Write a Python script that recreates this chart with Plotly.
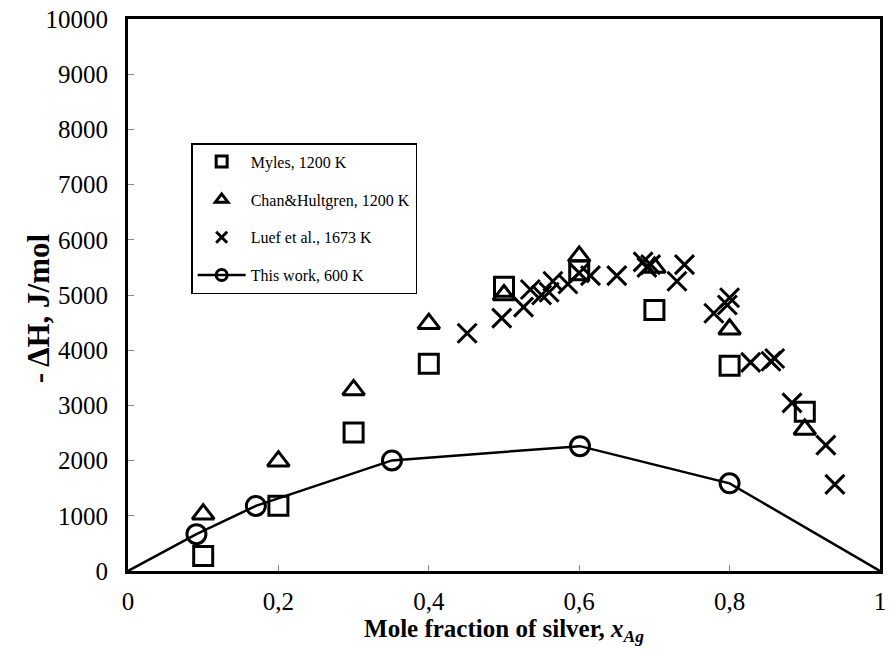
import plotly.graph_objects as go

# Myles, 1200 K
myles_x = [0.1, 0.2, 0.3, 0.4, 0.5, 0.6, 0.7, 0.8, 0.9]
myles_y = [270, 1180, 2510, 3755, 5150, 5450, 4730, 3718, 2883]

# Chan&Hultgren, 1200 K
chan_x = [0.1, 0.2, 0.3, 0.4, 0.5, 0.6, 0.7, 0.8, 0.9]
chan_y = [1030, 1990, 3280, 4480, 5000, 5700, 5500, 4380, 2563]

# Luef et al., 1673 K
luef_x = [0.451, 0.497, 0.526, 0.535, 0.55, 0.56, 0.565, 0.585, 0.60, 0.615,
          0.65, 0.685, 0.69, 0.695, 0.73, 0.74, 0.779, 0.797, 0.80, 0.828,
          0.855, 0.86, 0.883, 0.928, 0.94]
luef_y = [4308, 4580, 4780, 5100, 5000, 5050, 5250, 5200, 5400, 5350,
          5350, 5600, 5500, 5550, 5250, 5550, 4670, 4820, 4950, 3780,
          3800, 3850, 3045, 2280, 1570]

# This work, 600 K (line ends at 0 and 1 without markers)
work_line_x = [0, 0.091, 0.17, 0.351, 0.601, 0.80, 1.0]
work_line_y = [0, 668, 1179, 2003, 2262, 1588, 0]
work_x = [0.091, 0.17, 0.351, 0.601, 0.80]
work_y = [668, 1179, 2003, 2262, 1588]

series_names = ["Myles, 1200 K", "Chan&Hultgren, 1200 K", "Luef et al., 1673 K", "This work, 600 K"]

x_tickvals = [0, 0.2, 0.4, 0.6, 0.8, 1]
x_ticktext = ["0", "0,2", "0,4", "0,6", "0,8", "1"]
y_tickvals = list(range(0, 10001, 1000))
y_ticktext = [str(v) for v in y_tickvals]

FONT = "Liberation Serif"
MS = 19
LS = 11  # legend symbol size

symbols = ["square-open", "triangle-up-open", "x-thin-open", "circle-open"]
xs = [myles_x, chan_x, luef_x, work_x]
ys = [myles_y, chan_y, luef_y, work_y]

fig = go.Figure()
fig.add_trace(go.Scatter(
    x=work_line_x, y=work_line_y, mode="lines", showlegend=False,
    line=dict(color="black", width=2.5),
))
for name, sym, x, y in zip(series_names, symbols, xs, ys):
    fig.add_trace(go.Scatter(
        x=x, y=y, mode="markers", name=name, showlegend=False,
        marker=dict(symbol=sym, size=MS, color="black", line=dict(width=3, color="black")),
    ))

# legend entries (smaller, bold symbols as in the reference legend)
for i, (name, sym) in enumerate(zip(series_names, symbols)):
    is_line = name.startswith("This work")
    fig.add_trace(go.Scatter(
        x=[None], y=[None], mode="lines+markers" if is_line else "markers",
        name=name, legendgroup=f"g{i}",
        line=dict(color="black", width=2.5),
        marker=dict(symbol=sym, size=LS, color="black", line=dict(width=3, color="black")),
    ))

fig.add_annotation(
    text="<b>- ΔH, J/mol</b>", textangle=-90,
    xref="paper", yref="paper", x=-0.119, y=0.475,
    xanchor="center", yanchor="middle", showarrow=False,
    font=dict(family=FONT, size=31, color="black"),
)

fig.update_layout(
    width=890, height=660,
    margin=dict(l=128, r=4, t=19, b=89),
    paper_bgcolor="white", plot_bgcolor="white",
    font=dict(family=FONT, color="black", size=25),
    showlegend=True,
    legend=dict(
        x=0.084, y=0.775, xanchor="left", yanchor="top",
        bgcolor="white", bordercolor="black", borderwidth=1.5,
        font=dict(family=FONT, size=16, color="black"),
        tracegroupgap=14, itemwidth=48, itemsizing="trace",
    ),
    xaxis=dict(
        range=[0, 1], tickvals=x_tickvals, ticktext=x_ticktext,
        showgrid=False, zeroline=False,
        showline=True, linecolor="black", linewidth=3, mirror=True,
        ticks="inside", ticklen=6, tickcolor="#888", tickwidth=1,
        tickfont=dict(family=FONT, size=25), ticklabelstandoff=6,
        title=dict(text="<b>Mole fraction of silver, <i>x</i><sub><i>Ag</i></sub></b>",
                   font=dict(family=FONT, size=25), standoff=6),
    ),
    yaxis=dict(
        range=[0, 10000], tickvals=y_tickvals, ticktext=y_ticktext,
        showgrid=False, zeroline=False,
        showline=True, linecolor="black", linewidth=3, mirror=True,
        ticks="inside", ticklen=6, tickcolor="#888", tickwidth=1,
        tickfont=dict(family=FONT, size=25), ticklabelstandoff=12,
    ),
)

fig.write_html("out.html")
